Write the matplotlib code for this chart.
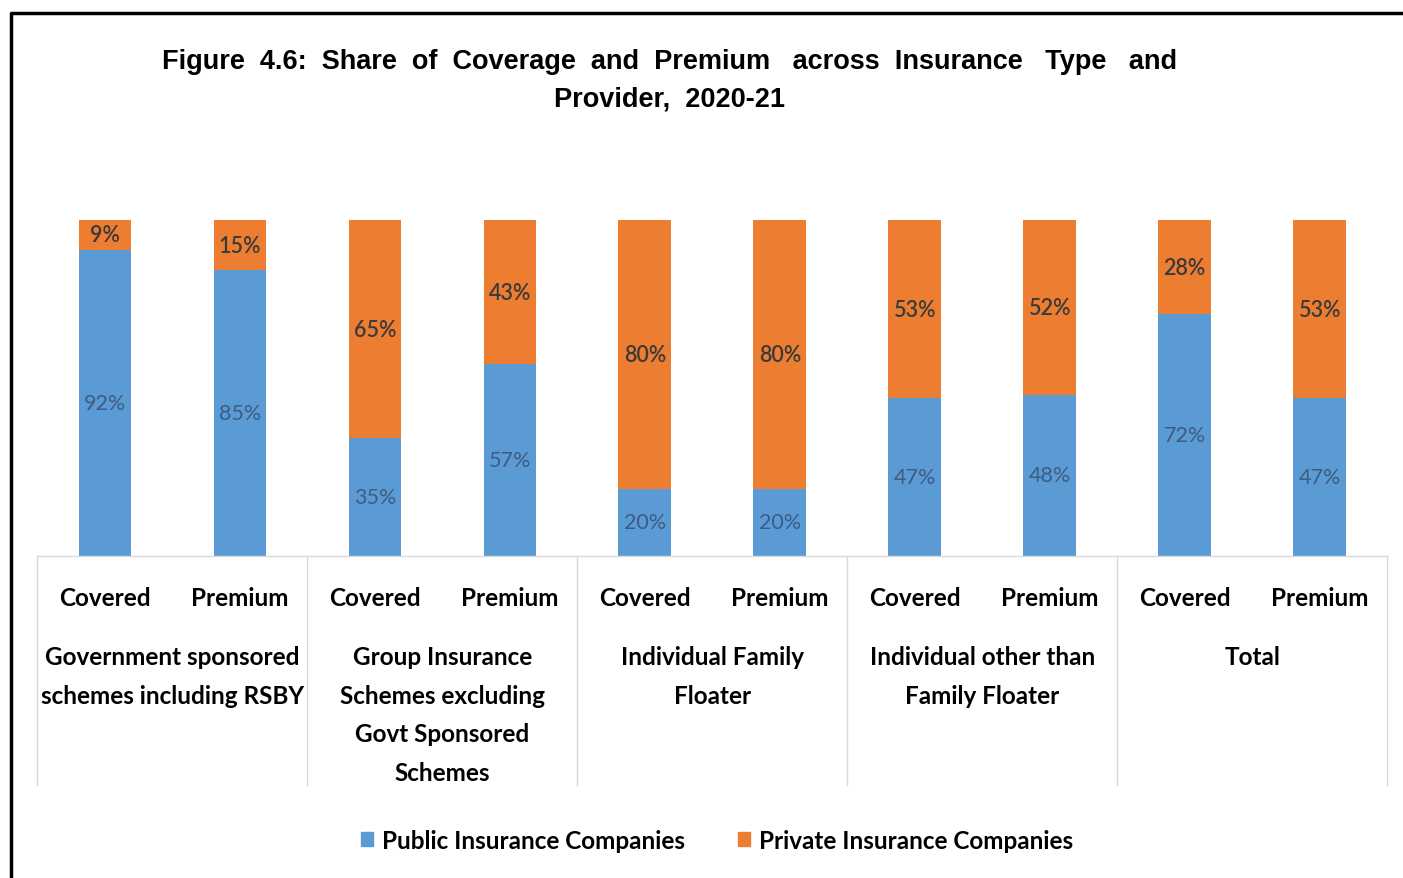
import matplotlib.pyplot as plt
from matplotlib.patches import Patch
from matplotlib.lines import Line2D

bar_labels = ["Covered", "Premium"] * 5
groups = [
    "Government sponsored\nschemes including RSBY",
    "Group Insurance\nSchemes excluding\nGovt Sponsored\nSchemes",
    "Individual Family\nFloater",
    "Individual other than\nFamily Floater",
    "Total",
]
public = [92, 85, 35, 57, 20, 20, 47, 48, 72, 47]
private = [9, 15, 65, 43, 80, 80, 53, 52, 28, 53]

BLUE = "#5B9BD5"
ORANGE = "#ED7D31"
LABEL_FONT = "Lato"

fig = plt.figure(figsize=(14.03, 8.79), dpi=100)
ax = fig.add_axes([0.0267, 0.3663, 0.962, 0.3823])

x = list(range(len(public)))
totals = [a + b for a, b in zip(public, private)]
pub_share = [a / t for a, t in zip(public, totals)]
priv_share = [b / t for b, t in zip(private, totals)]

ax.bar(x, pub_share, width=0.39, color=BLUE)
ax.bar(x, priv_share, width=0.39, bottom=pub_share, color=ORANGE)

for i in x:
    ax.text(i, pub_share[i] / 2, f"{public[i]}%", ha="center", va="center",
            fontsize=15.5, color="#3E5C80", family=LABEL_FONT)
    ax.text(i, pub_share[i] + priv_share[i] / 2, f"{private[i]}%", ha="center",
            va="center", fontsize=15.5, color="#3A3A3A", family=LABEL_FONT,
            fontweight="semibold")

ax.set_xlim(-0.5, len(x) - 0.5)
ax.set_ylim(0, 1)
ax.set_xticks([])
ax.set_yticks([])
for s in ax.spines.values():
    s.set_visible(False)

trans = ax.get_xaxis_transform()
ax.add_line(Line2D([-0.5, len(x) - 0.5], [0, 0], transform=trans, color="#D9D9D9",
                   lw=1, clip_on=False))
for g in range(len(groups) + 1):
    xs = g * 2 - 0.5
    ax.add_line(Line2D([xs, xs], [0, -0.68], transform=trans, color="#D9D9D9",
                       lw=1, clip_on=False))

for i, lab in enumerate(bar_labels):
    ax.text(i, -0.122, lab, transform=trans, ha="center", va="center",
            fontsize=17.5, family=LABEL_FONT, fontweight="bold")

for g, name in enumerate(groups):
    ax.text(g * 2 + 0.5, -0.265, name, transform=trans, ha="center", va="top",
            fontsize=17.5, family=LABEL_FONT, fontweight="bold", linespacing=1.82)

fig.text(0.477, 0.944,
         "Figure  4.6:  Share  of  Coverage  and  Premium   across  Insurance   Type   and\n"
         "Provider,  2020-21",
         ha="center", va="top", fontsize=19.5, fontweight="bold", family="Liberation Sans",
         linespacing=1.55)

handles = [Patch(color=BLUE, label="Public Insurance Companies"),
           Patch(color=ORANGE, label="Private Insurance Companies")]
fig.legend(handles=handles, loc="center", bbox_to_anchor=(0.511, 0.043), ncol=2,
           frameon=False, handlelength=0.5, handleheight=0.5, handletextpad=0.35,
           columnspacing=2.2, prop={"family": LABEL_FONT, "size": 17.5, "weight": "bold"})

# outer frame (left and top edges)
fig.add_artist(Line2D([0.008, 0.008, 1.0], [0.0, 0.984, 0.984], transform=fig.transFigure,
                      color="black", lw=2.5))

fig.savefig("out.png", dpi=100)
